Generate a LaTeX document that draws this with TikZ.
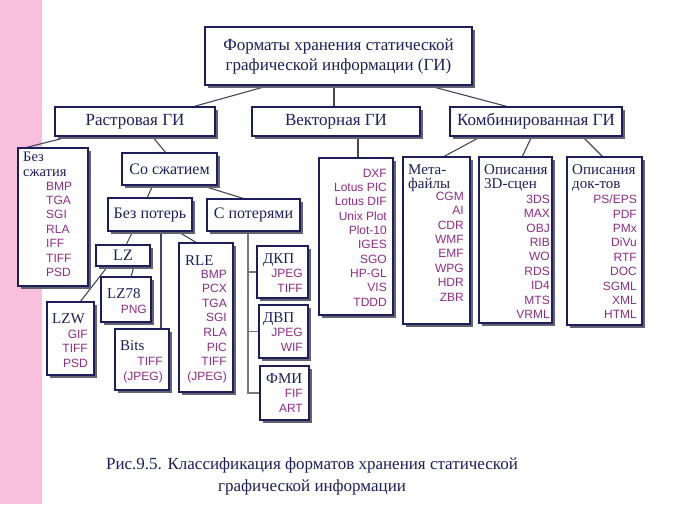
\documentclass[tikz,border=0pt]{standalone}
\usepackage{fontspec}
\setmainfont{Liberation Serif}
\newfontfamily\sansf{Liberation Sans}
\usetikzlibrary{shadows}
\definecolor{navy}{RGB}{30,30,95}
\definecolor{itemc}{RGB}{145,45,135}
\definecolor{pinkbg}{RGB}{249,192,222}
\definecolor{shad}{RGB}{100,100,112}
\definecolor{linec}{RGB}{70,70,100}
\definecolor{linecb}{RGB}{120,120,130}
\pgfdeclarelayer{bglayer}\pgfdeclarelayer{connlayer}
\pgfsetlayers{bglayer,connlayer,main}
\tikzset{
 box/.style={draw=navy, line width=1.4pt, fill=white, inner sep=0pt, outer sep=0pt, anchor=north west,
   drop shadow={shadow xshift=3pt, shadow yshift=-3pt, fill=shad, opacity=1}},
 lbl/.style={text=navy, inner sep=0pt, align=center, font=\fontsize{17}{20}\selectfont},
 lbltwo/.style={text=navy, inner sep=0pt, font=\fontsize{16}{18}\selectfont},
 ttl/.style={text=navy, inner sep=0pt, align=left, anchor=north west, font=\fontsize{15}{14}\selectfont},
 itm/.style={text=itemc, inner sep=0pt, align=right, anchor=north east, font=\sansf\fontsize{12}{14.4}\selectfont},
 conn/.style={draw=linec, line width=1.1pt},
 connb/.style={draw=linecb, line width=1.1pt},
}
\newcommand\mkbox[5]{\node[box, minimum width={#4pt-#2pt}, minimum height={#5pt-#3pt}] (#1) at (#2,#3) {};}
\begin{document}
\begin{tikzpicture}[x=1pt,y=-1pt]
\useasboundingbox (0,0) rectangle (682,504);
\begin{pgfonlayer}{bglayer}
\fill[white] (0,0) rectangle (682,504);
\fill[pinkbg] (0,0) rectangle (42,504);
\end{pgfonlayer}
% boxes
\mkbox{top}{205}{27}{472}{85}
\mkbox{rast}{55}{107}{215}{136}
\mkbox{vect}{252}{107}{420}{136}
\mkbox{komb}{450}{107}{622}{136}
\mkbox{bezszh}{18}{148}{88}{286}
\mkbox{sosz}{122}{153}{217}{185}
\mkbox{bezpot}{108}{198}{192}{231}
\mkbox{spot}{207}{199}{300}{231}
\mkbox{lz}{96}{245}{150}{266}
\mkbox{lzs}{101}{277}{151}{322}
\mkbox{lzw}{47}{302}{94}{375}
\mkbox{bits}{115}{329}{169}{390}
\mkbox{rle}{179}{243}{233}{392}
\mkbox{dkp}{257}{246}{308}{298}
\mkbox{dvp}{259}{305}{308}{358}
\mkbox{fmi}{260}{366}{309}{420}
\mkbox{vlist}{319}{158}{393}{315}
\mkbox{meta}{403}{157}{470}{324}
\mkbox{scene}{479}{157}{552}{323}
\mkbox{docs}{567}{157}{642}{325}
% connectors
\begin{pgfonlayer}{connlayer}
\draw[conn] ([xshift=66pt]top.south west) -- ([xshift=137pt]rast.north west);
\draw[conn] ([xshift=129pt]top.south west) -- ([xshift=82pt]vect.north west);
\draw[conn] ([xshift=221pt]top.south west) -- ([xshift=59pt]komb.north west);
\draw[conn] ([xshift=17pt]rast.south west) -- ([xshift=6pt]bezszh.north west);
\draw[conn] ([xshift=97pt]rast.south west) -- ([xshift=44pt]sosz.north west);
\draw[conn] ([xshift=31pt]sosz.south west) -- ([xshift=39pt]bezpot.north west);
\draw[conn] ([xshift=78pt]sosz.south west) -- ([xshift=38pt]spot.north west);
\draw[conn] ([xshift=25pt]bezpot.south west) -- ([xshift=30pt]lz.north west);
\draw[conn] ([xshift=53pt]bezpot.south west) -- ([xshift=46pt]bits.north west);
\draw[conn] ([xshift=69pt]bezpot.south west) -- ([xshift=18pt]rle.north west);
\draw[conn] ([xshift=12pt]lz.south west) -- ([xshift=33pt]lzw.north west);
\draw[conn] ([xshift=38pt]lz.south west) -- ([xshift=30pt]lzs.north west);
\coordinate (sp) at ([xshift=41pt]spot.south west);
\draw[connb] (sp) |- (dkp.west);
\draw[connb] (sp) |- (dvp.west);
\draw[connb] (sp) |- (fmi.west);
\draw[conn] ([xshift=106pt]vect.south west) -- ([xshift=39pt]vlist.north west);
\draw[conn] ([xshift=32pt]komb.south west) -- ([xshift=40pt]meta.north west);
\draw[conn] ([xshift=82pt]komb.south west) -- ([xshift=43pt]scene.north west);
\draw[conn] ([xshift=132pt]komb.south west) -- ([xshift=36pt]docs.north west);
\end{pgfonlayer}
% labels
\node[lbl] (ttop) at (top.center) {Форматы хранения статической\\графической информации (ГИ)};
\node[lbl] (trast) at (rast.center) {Растровая ГИ};
\node[lbl] (tvect) at (vect.center) {Векторная ГИ};
\node[lbl] (tkomb) at (komb.center) {Комбинированная ГИ};
\node[lbltwo] (tsosz) at (sosz.center) {Со сжатием};
\node[lbltwo] (tbezpot) at (bezpot.center) {Без потерь};
\node[lbltwo] (tspot) at (spot.center) {С потерями};
\node[lbltwo] (tlz) at (lz.center) {LZ};
% box contents
\node[ttl, font=\fontsize{14.5}{14.5}\selectfont] (tbezszh) at (23,152) {Без\\сжатия};
\node[itm, align=left, anchor=north west] (ibezszh) at (46,181.7) {BMP\\TGA\\SGI\\RLA\\IFF\\TIFF\\PSD};
\node[ttl] (tlzs) at (107,288) {LZ78};
\node[itm] (ilzs) at (147,304.7) {PNG};
\node[ttl] (tlzw) at (52,313) {LZW};
\node[itm, font=\sansf\fontsize{12}{14.5}\selectfont] (ilzw) at (88,329.7) {GIF\\TIFF\\PSD};
\node[ttl] (tbits) at (120,340) {Bits};
\node[itm, font=\sansf\fontsize{12}{15}\selectfont] (ibits) at (163,356.7) {TIFF\\(JPEG)};
\node[ttl] (trle) at (185,255) {RLE};
\node[itm, font=\sansf\fontsize{12}{14.6}\selectfont] (irle) at (227,269.7) {BMP\\PCX\\TGA\\SGI\\RLA\\PIC\\TIFF\\(JPEG)};
\node[ttl] (tdkp) at (263,253) {ДКП};
\node[itm, font=\sansf\fontsize{12}{15}\selectfont] (idkp) at (303,268.7) {JPEG\\TIFF};
\node[ttl] (tdvp) at (263,312) {ДВП};
\node[itm, font=\sansf\fontsize{12}{15}\selectfont] (idvp) at (303,327.7) {JPEG\\WIF};
\node[ttl] (tfmi) at (266,373) {ФМИ};
\node[itm, font=\sansf\fontsize{12}{15}\selectfont] (ifmi) at (303,388.7) {FIF\\ART};
\node[itm, font=\sansf\fontsize{12}{14.33}\selectfont] (ivlist) at (387,168.7) {DXF\\Lotus PIC\\Lotus DIF\\Unix Plot\\Plot-10\\IGES\\SGO\\HP-GL\\VIS\\TDDD};
\node[ttl] (tmeta) at (408,164) {Мета-\\файлы};
\node[itm] (imeta) at (464,191.7) {CGM\\AI\\CDR\\WMF\\EMF\\WPG\\HDR\\ZBR};
\node[ttl] (tscene) at (484,164) {Описания\\3D-сцен};
\node[itm] (iscene) at (550,194.7) {3DS\\MAX\\OBJ\\RIB\\WO\\RDS\\ID4\\MTS\\VRML};
\node[ttl] (tdocs) at (572,164) {Описания\\док-тов};
\node[itm] (idocs) at (637,194.7) {PS/EPS\\PDF\\PMx\\DiVu\\RTF\\DOC\\SGML\\XML\\HTML};
% caption
\node[lbl, font=\fontsize{17}{22}\selectfont] (cap) at (312,476) {Рис.9.5. Классификация форматов хранения статической\\графической информации};
\end{tikzpicture}
\end{document}
